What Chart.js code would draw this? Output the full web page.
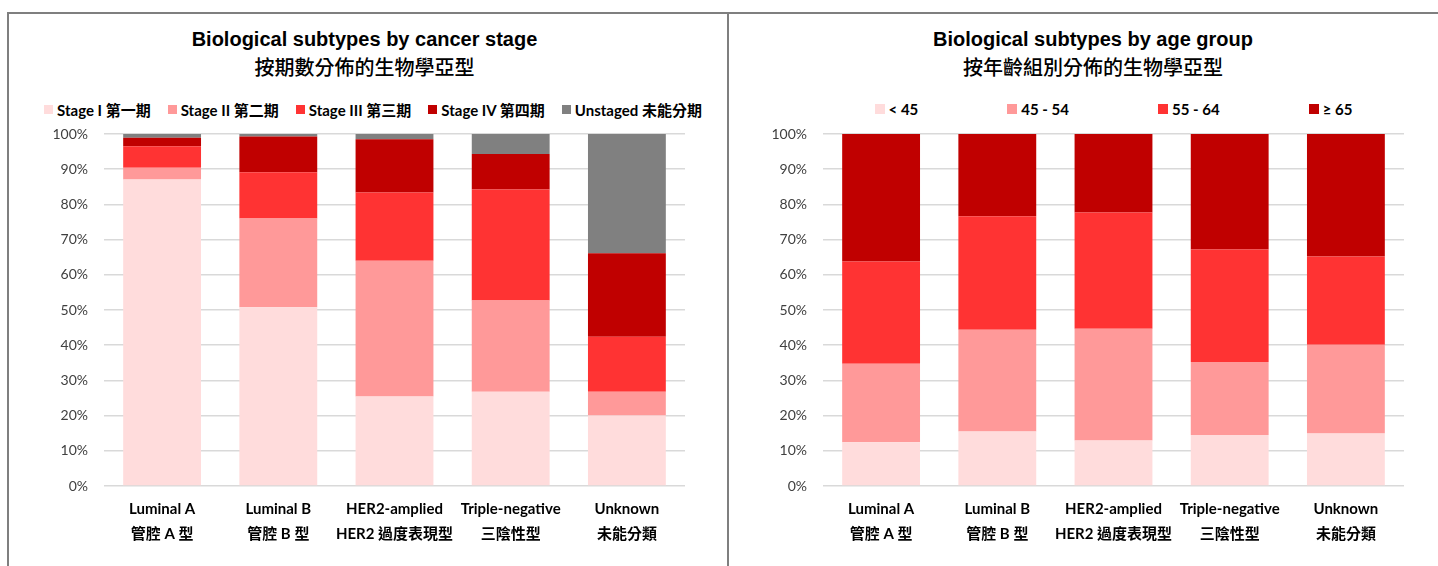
<!DOCTYPE html>
<html>
<head>
<meta charset="utf-8">
<script src="https://cdn.jsdelivr.net/npm/chart.js@4.4.1/dist/chart.umd.min.js"></script>
<style>
  body { margin: 0; width: 1438px; height: 566px; overflow: hidden; background: #fff; position: relative; }
  .frame { position: absolute; top: 12px; height: 600px; border: 2px solid #7f7f7f; border-bottom: none; }
  #frameLeft { left: 7px; width: 718px; }
  #frameRight { left: 727px; width: 760px; border-right: none; }
  canvas { position: absolute; top: 14px; }
  #stageChart { left: 9px; }
  #ageChart { left: 729px; }
  .title { position: absolute; text-align: center; font-size: 20px; line-height: 28px; color: #000; white-space: nowrap; }
  .title.en { font-family: "Liberation Sans", Arial, sans-serif; font-weight: bold; top: 25px; }
  .title.zh { font-family: "Noto Sans CJK TC", sans-serif; font-weight: 500; top: 53px; }
  .legend { position: absolute; top: 99px; height: 20px; display: flex; justify-content: center; align-items: center;
            font: bold 15px Lato, "Noto Sans CJK TC", sans-serif; color: #000; white-space: nowrap; }
  .legend .item { display: flex; align-items: center; }
  .legend .swatch { display: inline-block; margin-right: 4px; }
</style>
</head>
<body>
<div class="frame" id="frameLeft"></div>
<div class="frame" id="frameRight"></div>

<div class="title en" style="left:9px; width:711px;">Biological subtypes by cancer stage</div>
<div class="title zh" style="left:9px; width:711px;">按期數分佈的生物學亞型</div>
<div class="legend" id="stageLegend" style="left:14px; width:718px; gap:17px;"></div>
<canvas id="stageChart" width="718" height="552"></canvas>

<div class="title en" style="left:786px; width:614px;">Biological subtypes by age group</div>
<div class="title zh" style="left:786px; width:614px;">按年齡組別分佈的生物學亞型</div>
<div class="legend" id="ageLegend" style="left:823px; width:581px; gap:89px;"></div>
<canvas id="ageChart" width="709" height="552"></canvas>

<script>
// Catégories (deux lignes : anglais / chinois)
const categories = ['Luminal A', 'Luminal B', 'HER2-amplied', 'Triple-negative', 'Unknown'];
const categoriesZh = ['管腔 A 型', '管腔 B 型', 'HER2 過度表現型', '三陰性型', '未能分類'];

// Répartition par stade (%)
const stageNames = ['Stage I 第一期', 'Stage II 第二期', 'Stage III 第三期', 'Stage IV 第四期', 'Unstaged 未能分期'];
const stageI = [87.1, 50.8, 25.4, 26.8, 20.0];
const stageII = [3.3, 25.2, 38.6, 25.9, 6.8];
const stageIII = [6.1, 13.1, 19.4, 31.5, 15.6];
const stageIV = [2.4, 10.2, 15.1, 10.1, 23.7];
const unstaged = [1.1, 0.7, 1.5, 5.7, 33.9];
const stageColors = ['#FFDCDC', '#FF9999', '#FF3333', '#C00000', '#808080'];

// Répartition par groupe d'âge (%)
const ageNames = ['< 45', '45 - 54', '55 - 64', '≥ 65'];
const ageUnder45 = [12.4, 15.5, 12.9, 14.5, 14.9];
const age45to54 = [22.3, 28.9, 31.8, 20.7, 25.2];
const age55to64 = [29.1, 32.2, 33.0, 32.0, 25.1];
const age65plus = [36.2, 23.4, 22.3, 32.8, 34.8];
const ageColors = ['#FFDCDC', '#FF9999', '#FF3333', '#C00000'];

const yMax = 100;
const yStep = 10;

Chart.defaults.font.family = 'Lato, "Noto Sans CJK TC", sans-serif';

function drawStackedChart(canvasId, names, series, colors, yWidth, padRight) {
  const ctx = document.getElementById(canvasId).getContext('2d');
  return new Chart(ctx, {
    type: 'bar',
    data: {
      labels: categories.map((c, i) => [c, categoriesZh[i]]),
      datasets: series.map((data, i) => ({
        label: names[i],
        data,
        backgroundColor: colors[i],
        barPercentage: 0.67,
        categoryPercentage: 1
      }))
    },
    options: {
      responsive: false,
      animation: false,
      layout: { padding: { top: 120, right: padRight, bottom: 0, left: 0 } },
      plugins: {
        legend: { display: false },
        tooltip: {
          callbacks: { label: c => `${c.dataset.label} : ${c.parsed.y}%` }
        }
      },
      scales: {
        x: {
          stacked: true,
          grid: { display: false },
          border: { display: false },
          ticks: {
            color: '#000',
            padding: 3,
            maxRotation: 0,
            autoSkip: false,
            font: { size: 15, weight: 'bold', lineHeight: 25 / 15 }
          },
          afterFit: scale => { scale.height = 80; }
        },
        y: {
          stacked: true,
          min: 0,
          max: yMax,
          grid: { color: '#d9d9d9', lineWidth: 1.5, drawTicks: false },
          border: { display: false },
          ticks: {
            stepSize: yStep,
            padding: 16,
            color: '#404040',
            font: { size: 14 },
            callback: v => v + '%'
          },
          afterFit: scale => { scale.width = yWidth; }
        }
      }
    }
  });
}

// Légende HTML construite depuis les datasets
function buildLegend(legendId, chart, size) {
  const box = document.getElementById(legendId);
  chart.data.datasets.forEach(ds => {
    const item = document.createElement('span');
    item.className = 'item';
    const swatch = document.createElement('span');
    swatch.className = 'swatch';
    swatch.style.width = size + 'px';
    swatch.style.height = size + 'px';
    swatch.style.background = ds.backgroundColor;
    item.append(swatch, ds.label);
    box.append(item);
  });
}

const stageChart = drawStackedChart('stageChart', stageNames,
  [stageI, stageII, stageIII, stageIV, unstaged], stageColors, 95, 42);
buildLegend('stageLegend', stageChart, 9);

const ageChart = drawStackedChart('ageChart', ageNames,
  [ageUnder45, age45to54, age55to64, age65plus], ageColors, 94, 34);
buildLegend('ageLegend', ageChart, 10);
</script>
</body>
</html>
